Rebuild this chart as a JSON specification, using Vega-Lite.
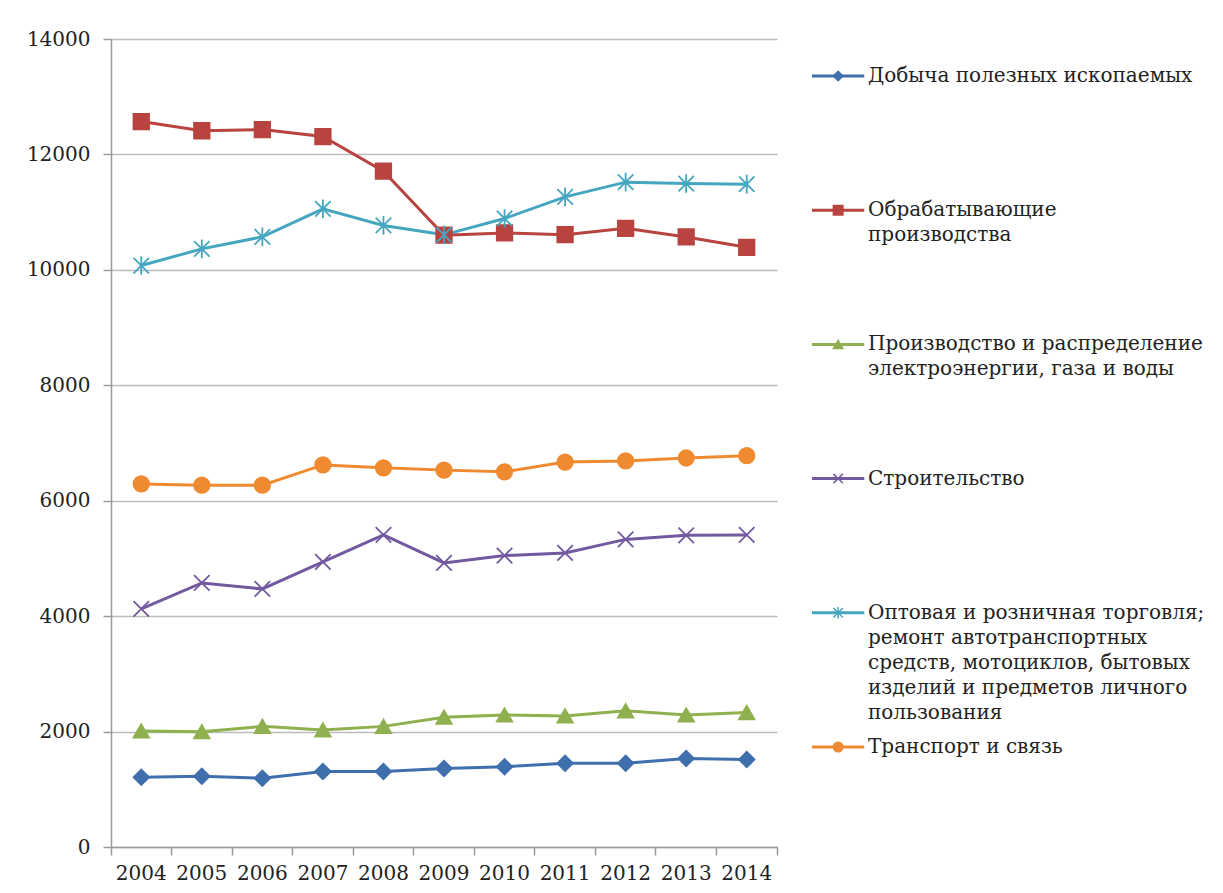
{
  "$schema": "https://vega.github.io/schema/vega-lite/v6.json",
  "background": "white",
  "padding": {"left": 26, "top": 29, "right": 0, "bottom": 0},
  "config": {
    "view": {"stroke": null},
    "font": "DejaVu Serif",
    "axis": {"labelFont": "DejaVu Serif", "labelFontSize": 20, "labelColor": "#222222", "title": null}
  },
  "datasets": {
    "main": [
      {"series": "Добыча полезных ископаемых", "year": "2004", "value": 1208},
      {"series": "Добыча полезных ископаемых", "year": "2005", "value": 1225},
      {"series": "Добыча полезных ископаемых", "year": "2006", "value": 1190},
      {"series": "Добыча полезных ископаемых", "year": "2007", "value": 1310},
      {"series": "Добыча полезных ископаемых", "year": "2008", "value": 1310},
      {"series": "Добыча полезных ископаемых", "year": "2009", "value": 1360},
      {"series": "Добыча полезных ископаемых", "year": "2010", "value": 1390},
      {"series": "Добыча полезных ископаемых", "year": "2011", "value": 1450},
      {"series": "Добыча полезных ископаемых", "year": "2012", "value": 1450},
      {"series": "Добыча полезных ископаемых", "year": "2013", "value": 1535},
      {"series": "Добыча полезных ископаемых", "year": "2014", "value": 1515},
      {"series": "Обрабатывающие производства", "year": "2004", "value": 12570},
      {"series": "Обрабатывающие производства", "year": "2005", "value": 12410},
      {"series": "Обрабатывающие производства", "year": "2006", "value": 12430},
      {"series": "Обрабатывающие производства", "year": "2007", "value": 12310},
      {"series": "Обрабатывающие производства", "year": "2008", "value": 11710},
      {"series": "Обрабатывающие производства", "year": "2009", "value": 10600},
      {"series": "Обрабатывающие производства", "year": "2010", "value": 10640},
      {"series": "Обрабатывающие производства", "year": "2011", "value": 10610},
      {"series": "Обрабатывающие производства", "year": "2012", "value": 10720},
      {"series": "Обрабатывающие производства", "year": "2013", "value": 10570},
      {"series": "Обрабатывающие производства", "year": "2014", "value": 10390},
      {"series": "Производство и распределение электроэнергии, газа и воды", "year": "2004", "value": 2010},
      {"series": "Производство и распределение электроэнергии, газа и воды", "year": "2005", "value": 1998},
      {"series": "Производство и распределение электроэнергии, газа и воды", "year": "2006", "value": 2090},
      {"series": "Производство и распределение электроэнергии, газа и воды", "year": "2007", "value": 2028},
      {"series": "Производство и распределение электроэнергии, газа и воды", "year": "2008", "value": 2090},
      {"series": "Производство и распределение электроэнергии, газа и воды", "year": "2009", "value": 2250},
      {"series": "Производство и распределение электроэнергии, газа и воды", "year": "2010", "value": 2288},
      {"series": "Производство и распределение электроэнергии, газа и воды", "year": "2011", "value": 2270},
      {"series": "Производство и распределение электроэнергии, газа и воды", "year": "2012", "value": 2360},
      {"series": "Производство и распределение электроэнергии, газа и воды", "year": "2013", "value": 2288},
      {"series": "Производство и распределение электроэнергии, газа и воды", "year": "2014", "value": 2330},
      {"series": "Строительство", "year": "2004", "value": 4125},
      {"series": "Строительство", "year": "2005", "value": 4575},
      {"series": "Строительство", "year": "2006", "value": 4471},
      {"series": "Строительство", "year": "2007", "value": 4939},
      {"series": "Строительство", "year": "2008", "value": 5407},
      {"series": "Строительство", "year": "2009", "value": 4922},
      {"series": "Строительство", "year": "2010", "value": 5050},
      {"series": "Строительство", "year": "2011", "value": 5095},
      {"series": "Строительство", "year": "2012", "value": 5330},
      {"series": "Строительство", "year": "2013", "value": 5400},
      {"series": "Строительство", "year": "2014", "value": 5407},
      {"series": "Оптовая и розничная торговля; ремонт автотранспортных средств, мотоциклов, бытовых изделий и предметов личного пользования", "year": "2004", "value": 10075},
      {"series": "Оптовая и розничная торговля; ремонт автотранспортных средств, мотоциклов, бытовых изделий и предметов личного пользования", "year": "2005", "value": 10364},
      {"series": "Оптовая и розничная торговля; ремонт автотранспортных средств, мотоциклов, бытовых изделий и предметов личного пользования", "year": "2006", "value": 10572},
      {"series": "Оптовая и розничная торговля; ремонт автотранспортных средств, мотоциклов, бытовых изделий и предметов личного пользования", "year": "2007", "value": 11057},
      {"series": "Оптовая и розничная торговля; ремонт автотранспортных средств, мотоциклов, бытовых изделий и предметов личного пользования", "year": "2008", "value": 10770},
      {"series": "Оптовая и розничная торговля; ремонт автотранспортных средств, мотоциклов, бытовых изделий и предметов личного пользования", "year": "2009", "value": 10607},
      {"series": "Оптовая и розничная торговля; ремонт автотранспортных средств, мотоциклов, бытовых изделий и предметов личного пользования", "year": "2010", "value": 10890},
      {"series": "Оптовая и розничная торговля; ремонт автотранспортных средств, мотоциклов, бытовых изделий и предметов личного пользования", "year": "2011", "value": 11265},
      {"series": "Оптовая и розничная торговля; ремонт автотранспортных средств, мотоциклов, бытовых изделий и предметов личного пользования", "year": "2012", "value": 11520},
      {"series": "Оптовая и розничная торговля; ремонт автотранспортных средств, мотоциклов, бытовых изделий и предметов личного пользования", "year": "2013", "value": 11495},
      {"series": "Оптовая и розничная торговля; ремонт автотранспортных средств, мотоциклов, бытовых изделий и предметов личного пользования", "year": "2014", "value": 11485},
      {"series": "Транспорт и связь", "year": "2004", "value": 6290},
      {"series": "Транспорт и связь", "year": "2005", "value": 6270},
      {"series": "Транспорт и связь", "year": "2006", "value": 6270},
      {"series": "Транспорт и связь", "year": "2007", "value": 6620},
      {"series": "Транспорт и связь", "year": "2008", "value": 6570},
      {"series": "Транспорт и связь", "year": "2009", "value": 6530},
      {"series": "Транспорт и связь", "year": "2010", "value": 6500},
      {"series": "Транспорт и связь", "year": "2011", "value": 6670},
      {"series": "Транспорт и связь", "year": "2012", "value": 6690},
      {"series": "Транспорт и связь", "year": "2013", "value": 6740},
      {"series": "Транспорт и связь", "year": "2014", "value": 6780}
    ],
    "legend": [
      {"series": "Добыча полезных ископаемых", "label": "Добыча полезных ископаемых"},
      {"series": "Обрабатывающие производства", "label": "Обрабатывающие\nпроизводства"},
      {"series": "Производство и распределение электроэнергии, газа и воды", "label": "Производство и распределение\nэлектроэнергии,  газа и воды"},
      {"series": "Строительство", "label": "Строительство"},
      {"series": "Оптовая и розничная торговля; ремонт автотранспортных средств, мотоциклов, бытовых изделий и предметов личного пользования", "label": "Оптовая и розничная торговля;\nремонт  автотранспортных\nсредств, мотоциклов, бытовых\nизделий и  предметов личного\nпользования"},
      {"series": "Транспорт и связь", "label": "Транспорт и связь"}
    ]
  },
  "spacing": 20,
  "resolve": {"scale": {"x": "independent", "y": "independent", "color": "shared", "shape": "shared", "stroke": "shared"}},
  "hconcat": [
    {
      "width": 666,
      "height": 808,
      "data": {"name": "main"},
      "encoding": {
        "x": {
          "field": "year", "type": "ordinal", "bandPosition": 0.5,
          "scale": {"type": "band", "paddingInner": 0, "paddingOuter": 0},
          "axis": {"labelAngle": 0, "bandPosition": 1, "tickExtra": true, "tickSize": 8, "tickColor": "#9a9a9a", "tickWidth": 1.5, "domainColor": "#9a9a9a", "domainWidth": 1.5, "labelPadding": 8, "grid": false}
        },
        "y": {
          "field": "value", "type": "quantitative",
          "scale": {"domain": [0, 14000]},
          "axis": {"values": [0, 2000, 4000, 6000, 8000, 10000, 12000, 14000], "format": "d", "tickSize": 8, "tickColor": "#9a9a9a", "tickWidth": 1.5, "domainColor": "#9a9a9a", "domainWidth": 1.5, "labelPadding": 13, "grid": true, "gridColor": "#bdbdbd", "gridWidth": 1.5}
        },
        "color": {
          "field": "series", "type": "nominal", "legend": null,
          "scale": {
            "domain": ["Добыча полезных ископаемых", "Обрабатывающие производства", "Производство и распределение электроэнергии, газа и воды", "Строительство", "Оптовая и розничная торговля; ремонт автотранспортных средств, мотоциклов, бытовых изделий и предметов личного пользования", "Транспорт и связь"],
            "range": ["#3f6fad", "#b8433f", "#8fb04e", "#7259a0", "#45a6c0", "#f08a30"]
          }
        }
      },
      "layer": [
        {"mark": {"type": "line", "strokeWidth": 3}},
        {
          "mark": {"type": "point", "filled": true, "size": 240, "strokeWidth": 1.8, "opacity": 1},
          "encoding": {
            "shape": {
              "field": "series", "type": "nominal", "legend": null,
              "scale": {
                "domain": ["Добыча полезных ископаемых", "Обрабатывающие производства", "Производство и распределение электроэнергии, газа и воды", "Строительство", "Оптовая и розничная торговля; ремонт автотранспортных средств, мотоциклов, бытовых изделий и предметов личного пользования", "Транспорт и связь"],
                "range": ["diamond", "square", "triangle-up", "M-1,-1L1,1M1,-1L-1,1", "M-1,-1L1,1M1,-1L-1,1M0,-1.2L0,1.2", "circle"]
              }
            },
            "stroke": {
              "field": "series", "type": "nominal", "legend": null,
              "scale": {
                "domain": ["Добыча полезных ископаемых", "Обрабатывающие производства", "Производство и распределение электроэнергии, газа и воды", "Строительство", "Оптовая и розничная торговля; ремонт автотранспортных средств, мотоциклов, бытовых изделий и предметов личного пользования", "Транспорт и связь"],
                "range": ["#3f6fad", "#b8433f", "#8fb04e", "#7259a0", "#45a6c0", "#f08a30"]
              }
            }
          }
        }
      ]
    },
    {
      "width": 420,
      "height": 808,
      "data": {"name": "legend"},
      "encoding": {
        "y": {
          "field": "series", "type": "nominal", "sort": null, "axis": null,
          "scale": {"type": "point", "padding": 0, "domain": ["Добыча полезных ископаемых", "Обрабатывающие производства", "Производство и распределение электроэнергии, газа и воды", "Строительство", "Оптовая и розничная торговля; ремонт автотранспортных средств, мотоциклов, бытовых изделий и предметов личного пользования", "Транспорт и связь"], "range": [37, 708]}
        },
        "color": {"field": "series", "type": "nominal", "legend": null}
      },
      "layer": [
        {
          "mark": {"type": "rule", "strokeWidth": 3},
          "encoding": {
            "x": {"datum": 15, "type": "quantitative", "scale": {"domain": [0, 420]}, "axis": null},
            "x2": {"datum": 71}
          }
        },
        {
          "mark": {"type": "point", "filled": true, "size": 90, "strokeWidth": 1.5, "opacity": 1},
          "encoding": {
            "x": {"datum": 43, "type": "quantitative"},
            "shape": {"field": "series", "type": "nominal", "legend": null},
            "stroke": {"field": "series", "type": "nominal", "legend": null}
          }
        },
        {
          "mark": {"type": "text", "align": "left", "baseline": "alphabetic", "dy": 6, "fontSize": 20, "font": "DejaVu Serif", "lineBreak": "\n", "lineHeight": 25, "color": "#222222"},
          "encoding": {
            "x": {"datum": 75, "type": "quantitative"},
            "text": {"field": "label"},
            "color": {"value": "#222222"}
          }
        }
      ]
    }
  ]
}
